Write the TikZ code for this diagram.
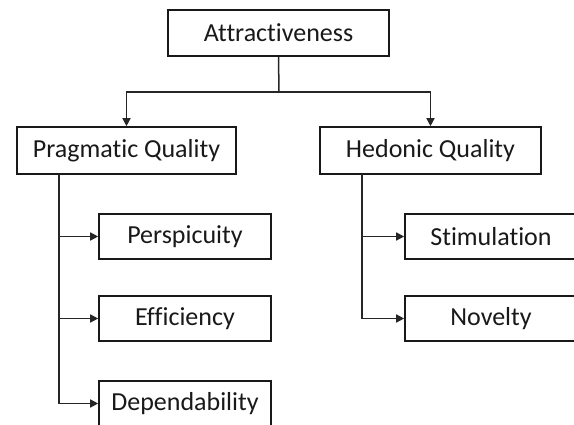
\documentclass[tikz,border=0pt]{standalone}
\usepackage{fontspec}
\setmainfont{Carlito}[Ligatures={NoCommon}]
\usetikzlibrary{arrows.meta}
\begin{document}
\begin{tikzpicture}[x=1pt,y=-1pt,
  box/.style={draw=black!90, line width=1.6pt, inner sep=0pt, minimum height=45pt,
    font=\fontsize{26}{30}\selectfont, text=black!90},
  conn/.style={line width=1.5pt, draw=black!85, -{Triangle[length=8pt,width=8pt]}},
  line/.style={line width=1.5pt, draw=black!85}]
\clip (0,0) rectangle (574,425);
\fill[white] (0,0) rectangle (574,425);
\node[box, minimum width=221pt, minimum height=46pt] (attr) at (278.5,33) {Attractiveness};
\node[box, minimum width=219pt, minimum height=47pt] (prag) at (126.5,150.5) {Pragmatic Quality};
\node[box, minimum width=221pt, minimum height=47pt] (hed) at (430.5,150.5) {Hedonic Quality};
\node[box, minimum width=172pt] (persp) at (185,236.5) {Perspicuity};
\node[box, minimum width=172pt] (eff) at (185,318.5) {Efficiency};
\node[box, minimum width=172pt] (dep) at (185,403.5) {Dependability};
\node[box, minimum width=172pt] (stim) at (491,236.5) {Stimulation};
\node[box, minimum width=172pt] (nov) at (491,318.5) {Novelty};
\coordinate (j) at (279,92);
\coordinate (pl) at (59,174);
\coordinate (hl) at (362,174);
\draw[line] (attr.south) -- (j);
\draw[conn] (j) -| (prag.north);
\draw[conn] (j) -| (hed.north);
\draw[conn] (pl) |- (persp.west);
\draw[conn] (pl) |- (eff.west);
\draw[conn] (pl) |- (dep.west);
\draw[conn] (hl) |- (stim.west);
\draw[conn] (hl) |- (nov.west);
\end{tikzpicture}
\end{document}
